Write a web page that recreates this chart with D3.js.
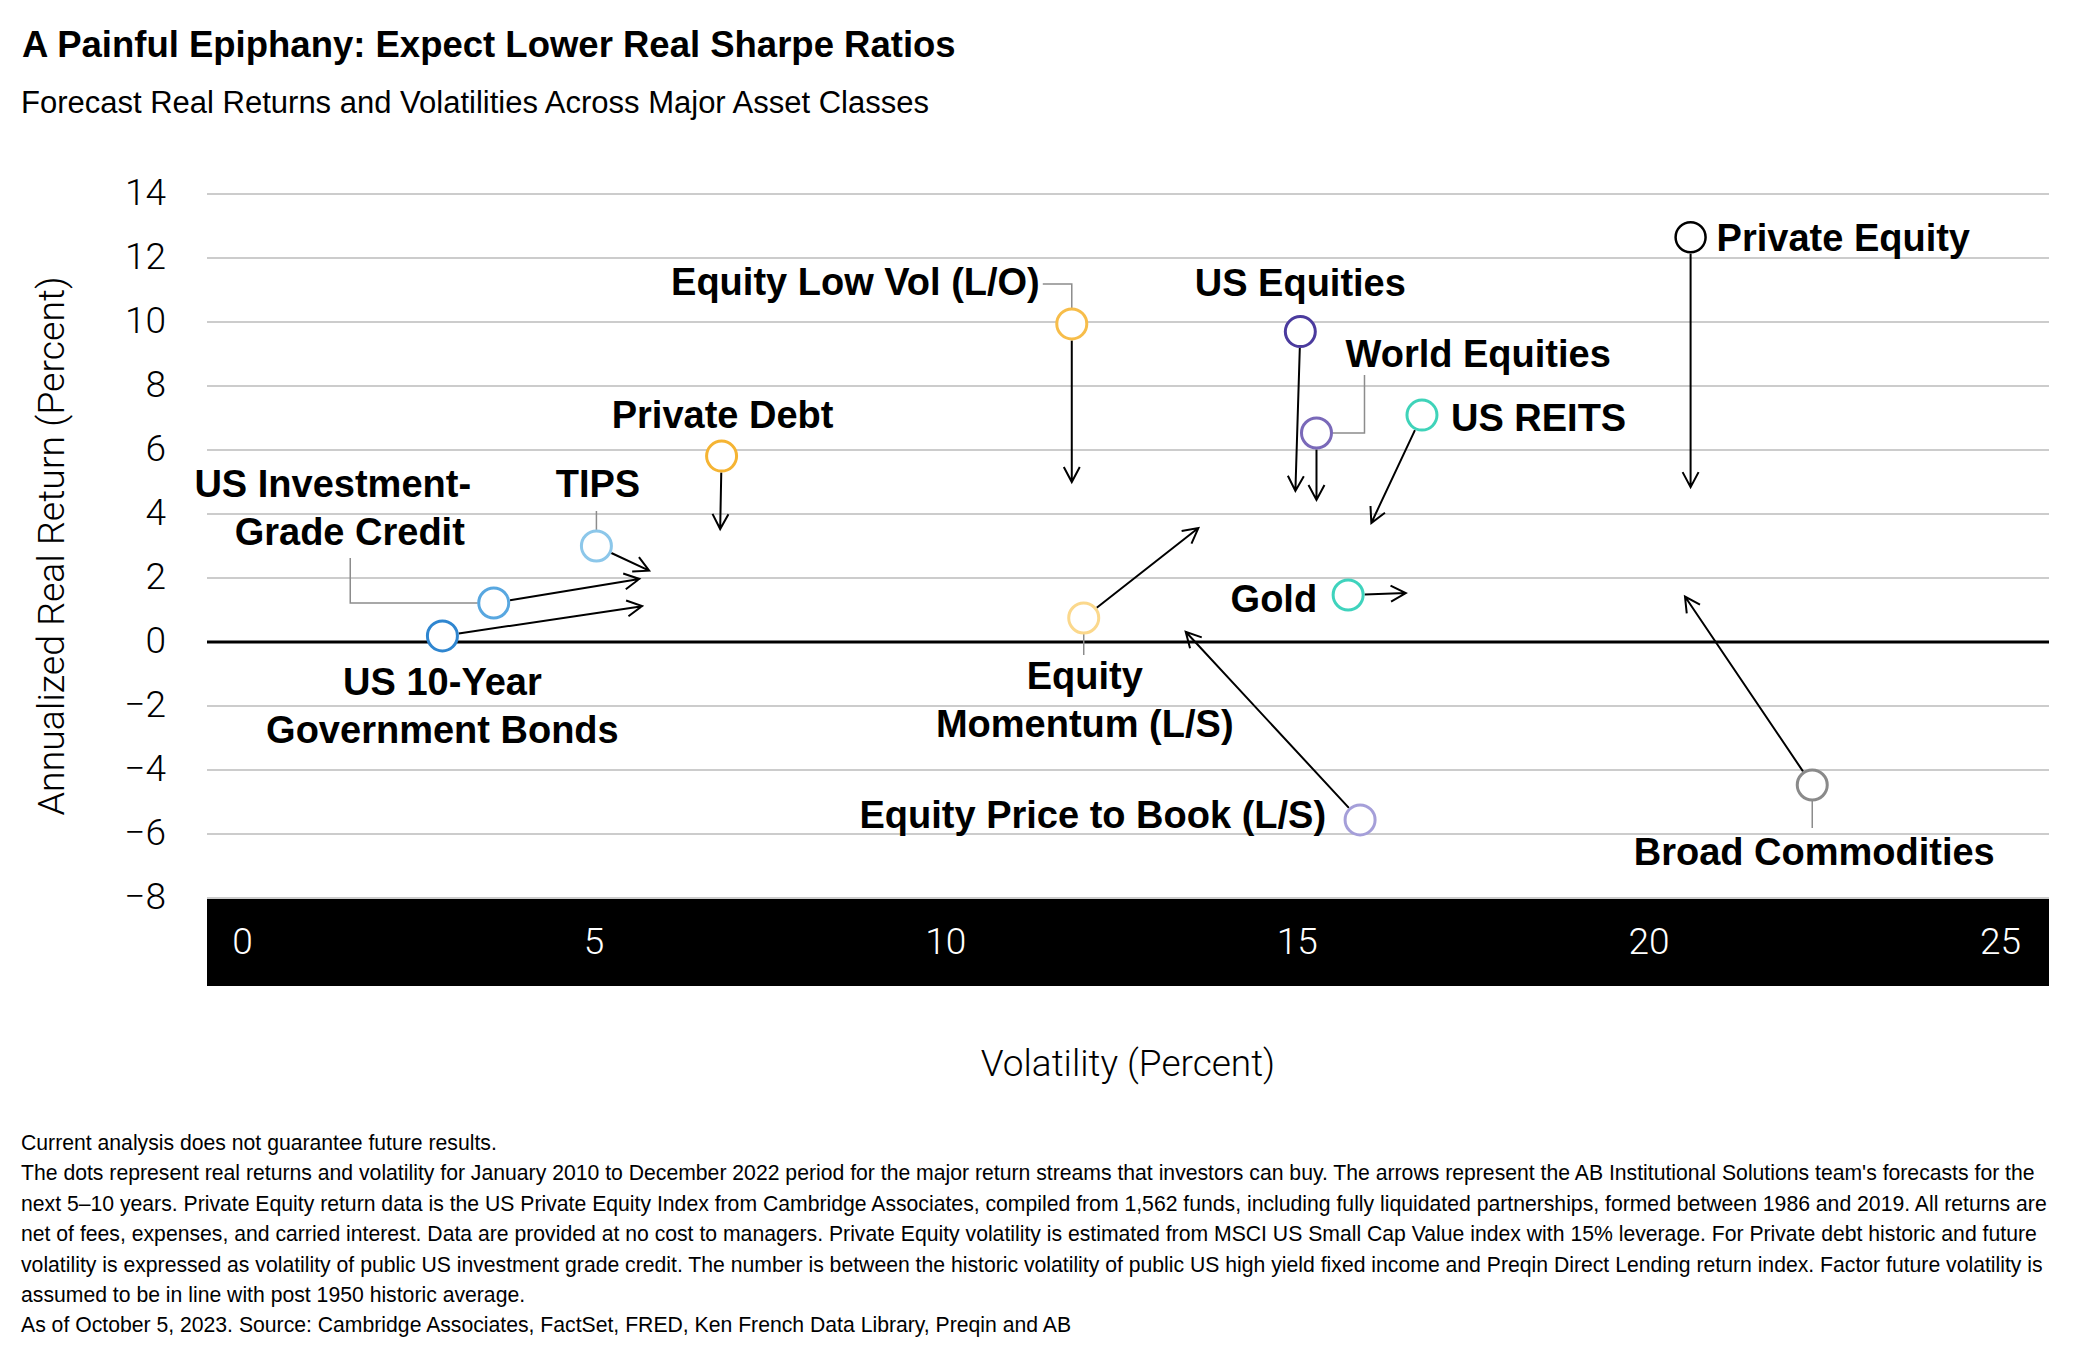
<!DOCTYPE html>
<html>
<head>
<meta charset="utf-8">
<script src="https://cdn.jsdelivr.net/npm/d3@7"></script>
<style>
  body { margin: 0; background: #fff; }
  svg text { font-family: "Liberation Sans", Arial, sans-serif; fill: #000; }
  svg .light { font-family: Roboto, "Liberation Sans", sans-serif; font-weight: 300; }
</style>
</head>
<body>
<div id="main"></div>
<script>
const W = 2100, H = 1358;

// ---- data ----
const assets = ["Private Equity", "US Equities", "World Equities", "US REITS", "Gold",
    "Equity Low Vol (L/O)", "Equity Momentum (L/S)", "Equity Price to Book (L/S)",
    "Broad Commodities", "Private Debt", "TIPS", "US Investment-Grade Credit",
    "US 10-Year Government Bonds"];
// historic (dots) 2010-2022
const histVol = [20.6, 15.05, 15.28, 16.78, 15.73, 11.8, 11.97, 15.9, 22.33, 6.82, 5.04, 3.58, 2.85];
const histRet = [12.65, 9.7, 6.53, 7.09, 1.47, 9.94, 0.75, -5.56, -4.47, 5.81, 3.0, 1.22, 0.19];
// forecast (arrow tips) next 5-10 years
const fcstVol = [20.6, 14.98, 15.28, 16.06, 16.55, 11.8, 13.6, 13.42, 20.52, 6.8, 5.79, 5.65, 5.69];
const fcstRet = [4.84, 4.72, 4.44, 3.72, 1.53, 5.0, 3.56, 0.32, 1.42, 3.53, 2.23, 1.97, 1.12];
// label text as printed (line breaks)
const labelText = [["Private Equity"], ["US Equities"], ["World Equities"], ["US REITS"], ["Gold"],
    ["Equity Low Vol (L/O)"], ["Equity", "Momentum (L/S)"], ["Equity Price to Book (L/S)"],
    ["Broad Commodities"], ["Private Debt"], ["TIPS"], ["US Investment-", "Grade Credit"],
    ["US 10-Year", "Government Bonds"]];

const yTicks = [-8, -6, -4, -2, 0, 2, 4, 6, 8, 10, 12, 14];
const xTicks = [0, 5, 10, 15, 20, 25];

const title = "A Painful Epiphany: Expect Lower Real Sharpe Ratios";
const subtitle = "Forecast Real Returns and Volatilities Across Major Asset Classes";
const yTitle = "Annualized Real Return (Percent)";
const xTitle = "Volatility (Percent)";
const footnotes = [
    "Current analysis does not guarantee future results.",
    "The dots represent real returns and volatility for January 2010 to December 2022 period for the major return streams that investors can buy. The arrows represent the AB Institutional Solutions team's forecasts for the",
    "next 5\u201310 years.  Private Equity return data is the US Private Equity Index from Cambridge Associates, compiled from 1,562 funds, including fully liquidated partnerships, formed between 1986 and 2019. All returns are",
    "net of fees, expenses, and carried interest. Data are provided at no cost to managers. Private Equity volatility is estimated from MSCI US Small Cap Value index with 15% leverage. For Private debt historic and future",
    "volatility is expressed as volatility of public US investment grade credit. The number is between the historic volatility of public US high yield fixed income and Preqin Direct Lending return index. Factor future volatility is",
    "assumed to be in line with post 1950 historic average.",
    "As of October 5, 2023. Source: Cambridge Associates, FactSet, FRED, Ken French Data Library, Preqin and AB"
];

// ---- styles / layout ----
const dotColors = ["#000000", "#4b3b9e", "#7a69b9", "#3fd3b9", "#3fd3bd", "#f7bd4a", "#fbd88c",
    "#a59fd9", "#8a8a8a", "#f5b433", "#8cc7ea", "#58a7e0", "#2f86d0"];
// label offsets from the dot centre, one [dx, dy] per line, plus leader polyline
const labelLayout = [
    {anchor: "start", pos: [[26, 14]]},
    {anchor: "middle", pos: [[0, -36]]},
    {anchor: "start", pos: [[29, -66]], leader: [[16, 0], [48, 0], [48, -58]]},
    {anchor: "start", pos: [[29, 16]]},
    {anchor: "end", pos: [[-31, 17]]},
    {anchor: "end", pos: [[-32, -29]], leader: [[-29, -40], [0, -40], [0, -16]]},
    {anchor: "middle", pos: [[1, 71], [1, 119]], leader: [[0, 16], [0, 37]]},
    {anchor: "end", pos: [[-34, 8]]},
    {anchor: "middle", pos: [[2, 80]], leader: [[0, 16], [0, 43]]},
    {anchor: "middle", pos: [[1, -28]]},
    {anchor: "middle", pos: [[1.5, -49]], leader: [[0, -35], [0, -16]]},
    {anchor: "middle", pos: [[-161, -106], [-144, -58]], leader: [[-143.5, -45], [-143.5, 0], [-16, 0]]},
    {anchor: "middle", pos: [[0, 59], [0, 107]]}
];

const plot = {left: 207, right: 2049, bandTop: 899, bandBottom: 986};
const R = 15;

const svg = d3.select("#main").append("svg").attr("width", W).attr("height", H);

const x = d3.scaleLinear().domain([0, 25]).range([242, 2000]);
const y = d3.scaleLinear().domain([-8, 14]).range([898, 194]);

// titles
svg.append("text").attr("x", 22).attr("y", 57)
    .attr("font-size", 36.5).attr("font-weight", "bold").text(title);
svg.append("text").attr("x", 21).attr("y", 113)
    .attr("font-size", 31).text(subtitle);

// grid
svg.append("g").selectAll("line")
    .data(yTicks.filter(d => d !== 0))
    .enter().append("line")
    .attr("x1", plot.left).attr("x2", plot.right)
    .attr("y1", d => y(d)).attr("y2", d => y(d))
    .attr("stroke", "#cccccc").attr("stroke-width", 2);
svg.append("line")
    .attr("x1", plot.left).attr("x2", plot.right)
    .attr("y1", y(0)).attr("y2", y(0))
    .attr("stroke", "#000").attr("stroke-width", 3);

// black x axis band
svg.append("rect")
    .attr("x", plot.left).attr("y", plot.bandTop)
    .attr("width", plot.right - plot.left).attr("height", plot.bandBottom - plot.bandTop)
    .attr("fill", "#000");

// y axis
const yAxis = svg.append("g")
    .attr("transform", "translate(175,0)")
    .call(d3.axisLeft(y).tickValues(yTicks).tickSize(0).tickPadding(9));
yAxis.select(".domain").remove();
yAxis.selectAll("text").attr("class", "light")
    .attr("font-size", 37).attr("dy", "0.27em").attr("fill", "#000");

// x axis (white labels inside the band)
const xAxis = svg.append("g")
    .attr("transform", "translate(0," + plot.bandTop + ")")
    .call(d3.axisBottom(x).tickValues(xTicks).tickSize(0).tickPadding(29));
xAxis.select(".domain").remove();
xAxis.selectAll("text").attr("class", "light")
    .attr("font-size", 37).style("fill", "#fff");

// axis titles
svg.append("text").attr("class", "light")
    .attr("transform", "translate(51,546) rotate(-90)")
    .attr("text-anchor", "middle").attr("dy", "0.35em")
    .attr("font-size", 37.5).text(yTitle);
svg.append("text").attr("class", "light")
    .attr("x", 1128).attr("y", 1076).attr("text-anchor", "middle")
    .attr("font-size", 37).text(xTitle);

// leader lines
const pts = assets.map((d, i) => ({
    i: i,
    cx: x(histVol[i]), cy: y(histRet[i]),
    tx: x(fcstVol[i]), ty: y(fcstRet[i])
}));

const lineGen = d3.line();
svg.append("g").selectAll("path")
    .data(pts.filter(p => labelLayout[p.i].leader))
    .enter().append("path")
    .attr("d", p => lineGen(labelLayout[p.i].leader.map(o => [p.cx + o[0], p.cy + o[1]])))
    .attr("fill", "none").attr("stroke", "#8c8c8c").attr("stroke-width", 1.5);

// arrows from historic dot to forecast
const HEAD = 17, ANG = 28 * Math.PI / 180;
function arrowPath(p) {
    const dx = p.tx - p.cx, dy = p.ty - p.cy;
    const len = Math.hypot(dx, dy);
    const ux = dx / len, uy = dy / len;
    const sx = p.cx + ux * (R + 1.5), sy = p.cy + uy * (R + 1.5);
    const a = Math.atan2(uy, ux);
    const w1 = [p.tx - HEAD * Math.cos(a - ANG), p.ty - HEAD * Math.sin(a - ANG)];
    const w2 = [p.tx - HEAD * Math.cos(a + ANG), p.ty - HEAD * Math.sin(a + ANG)];
    return "M" + sx + "," + sy + "L" + p.tx + "," + p.ty +
        "M" + w1[0] + "," + w1[1] + "L" + p.tx + "," + p.ty + "L" + w2[0] + "," + w2[1];
}
svg.append("g").selectAll("path")
    .data(pts)
    .enter().append("path")
    .attr("d", arrowPath)
    .attr("fill", "none").attr("stroke", "#000").attr("stroke-width", 2);

// dots
svg.append("g").selectAll("circle")
    .data(pts)
    .enter().append("circle")
    .attr("cx", p => p.cx).attr("cy", p => p.cy).attr("r", R)
    .attr("fill", "#fff")
    .attr("stroke", p => dotColors[p.i])
    .attr("stroke-width", p => p.i === 0 ? 2.5 : 3);

// labels
svg.append("g").selectAll("text")
    .data(pts.flatMap(p => labelText[p.i].map((t, k) => ({p: p, t: t, k: k}))))
    .enter().append("text")
    .attr("x", d => d.p.cx + labelLayout[d.p.i].pos[d.k][0])
    .attr("y", d => d.p.cy + labelLayout[d.p.i].pos[d.k][1])
    .attr("text-anchor", d => labelLayout[d.p.i].anchor)
    .attr("font-size", 38).attr("font-weight", "bold")
    .text(d => d.t);

// footnotes
svg.append("g").selectAll("text")
    .data(footnotes)
    .enter().append("text")
    .attr("x", 21).attr("y", (d, i) => 1150 + i * 30.4)
    .attr("font-size", 21.2)
    .text(d => d);
</script>
</body>
</html>
